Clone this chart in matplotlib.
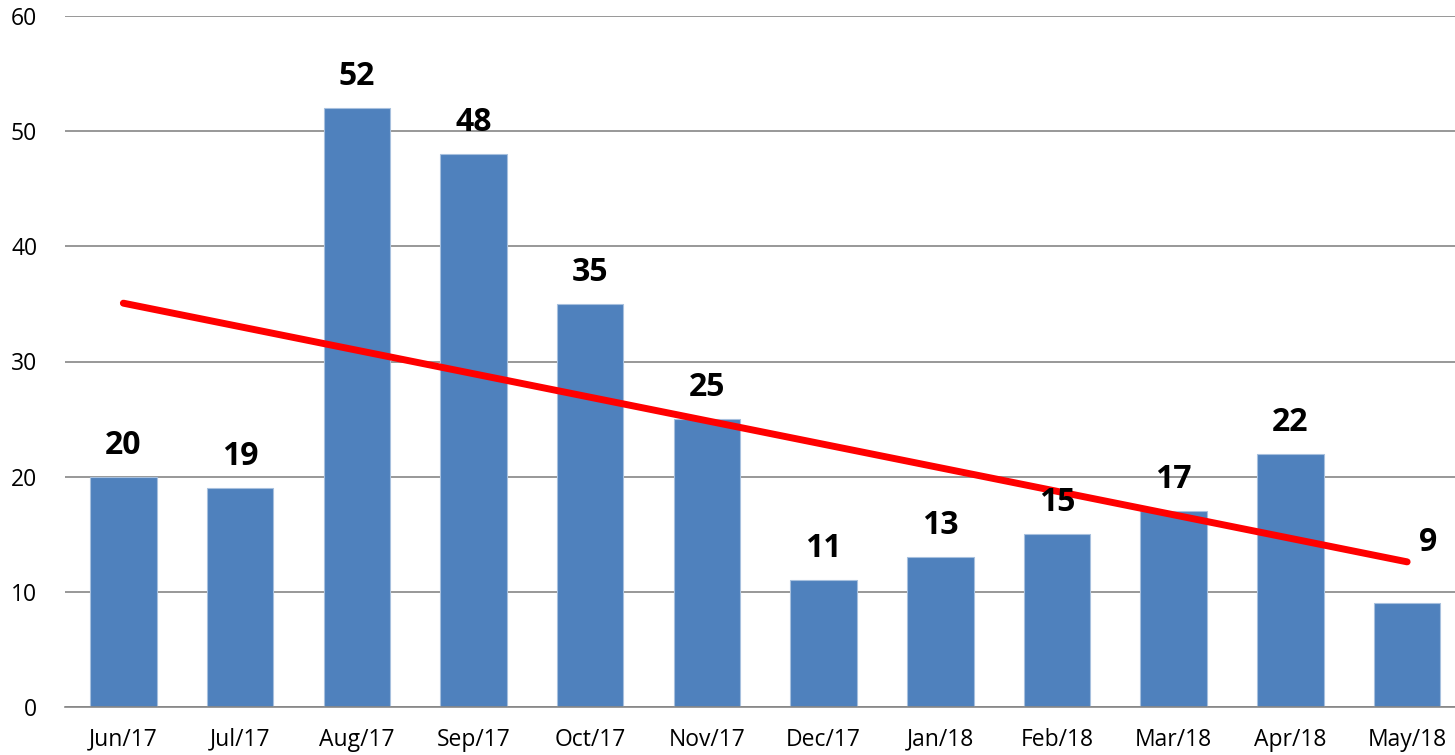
import matplotlib.pyplot as plt
import numpy as np

plt.rcParams["font.family"] = ["Open Sans", "DejaVu Sans"]

months = ["Jun/17", "Jul/17", "Aug/17", "Sep/17", "Oct/17", "Nov/17",
          "Dec/17", "Jan/18", "Feb/18", "Mar/18", "Apr/18", "May/18"]
counts = [20, 19, 52, 48, 35, 25, 11, 13, 15, 17, 22, 9]
y_ticks = [0, 10, 20, 30, 40, 50, 60]

fig = plt.figure(figsize=(14.55, 7.55), dpi=100)
ax = fig.add_axes([65 / 1455, 48 / 755, 1390 / 1455, 691 / 755])

x = np.arange(len(months))
ax.bar(x, counts, width=0.57, color="#4F81BD", edgecolor="#A7C0DE",
       linewidth=0.8, zorder=2)

# linear trend line
slope, intercept = np.polyfit(x, counts, 1)
ax.plot([x[0], x[-1]], [intercept, intercept + slope * x[-1]],
        color="#FF0000", lw=5, solid_capstyle="round", zorder=3)

for xi, v in zip(x, counts):
    if xi == x[-1]:
        # last label was nudged up/right in the original
        ax.text(xi + 0.18, 14.3, str(v), ha="center", va="center",
                fontsize=23, fontweight="bold", zorder=4)
        continue
    ax.text(xi, v + 2.0, str(v), ha="center", va="baseline",
            fontsize=23, fontweight="bold", zorder=4)

ax.set_xlim(-0.5, 11.41)
ax.set_ylim(0, 60)
ax.set_yticks(y_ticks)
ax.set_xticks(x)
ax.set_xticklabels(months)
ax.tick_params(axis="both", length=0, labelsize=16.5)
ax.tick_params(axis="y", pad=20)
ax.tick_params(axis="x", pad=15)
ax.yaxis.grid(True, color="#868686", lw=1.2, zorder=0)
ax.set_axisbelow(True)
for side in ("left", "right", "top"):
    ax.spines[side].set_visible(False)
ax.spines["bottom"].set_color("#868686")
ax.spines["bottom"].set_linewidth(1.2)

fig.savefig("out.png", dpi=100)
